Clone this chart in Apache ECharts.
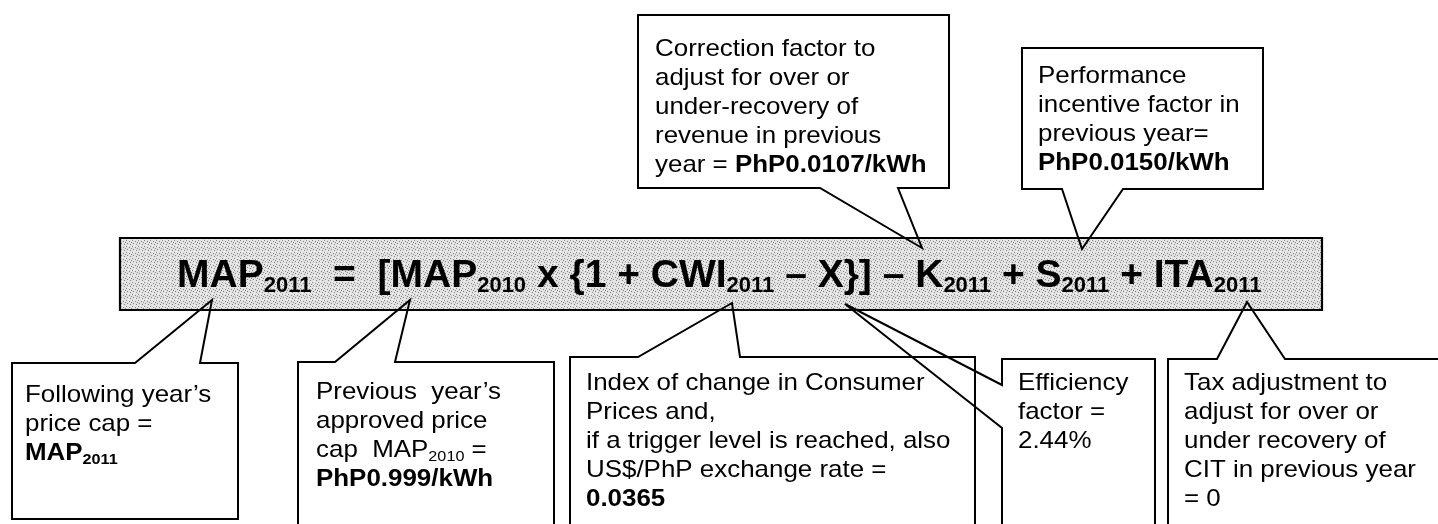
<!DOCTYPE html>
<html>
<head>
<meta charset="utf-8">
<script src="https://cdn.jsdelivr.net/npm/echarts@6/dist/echarts.min.js"></script>
<style>
html,body{margin:0;padding:0;background:#ffffff;}
#main{width:1438px;height:524px;}
</style>
</head>
<body>
<div id="main"></div>
<script>
// ---------- content (texts) ----------
const formulaText = 'MAP{s|2011}  =  [MAP{s|2010} x {1 + CWI{s|2011} \u2013 X}] \u2013 K{s|2011} + S{s|2011} + ITA{s|2011}';
const textCorrection = ['Correction factor to', 'adjust for over or', 'under-recovery of', 'revenue in previous', 'year = {b|PhP0.0107/kWh}'];
const textPerformance = ['Performance', 'incentive factor in', 'previous year=', '{b|PhP0.0150/kWh}'];
const textFollowing = ['Following year\u2019s', 'price cap =', '{b|MAP}{bs|2011}'];
const textPrevious = ['Previous  year\u2019s', 'approved price', 'cap  MAP{ns|2010} =', '{b|PhP0.999/kWh}'];
const textIndex = ['Index of change in Consumer', 'Prices and,', 'if a trigger level is reached, also', 'US$/PhP exchange rate =', '{b|0.0365}'];
const textEfficiency = ['Efficiency', 'factor =', '2.44%'];
const textTax = ['Tax adjustment to', 'adjust for over or', 'under recovery of', 'CIT in previous year', '= 0'];

// ---------- layout (positions / sizes) ----------
const bar = { x1: 120, y1: 238, x2: 1322, y2: 310, textX: 177, textY: 276 };
const callouts = [
  { lines: textCorrection, tx: 655, ty: 49, pts: [[638,15],[949,15],[949,188],[898,188],[922,248],[820,188],[638,188]] },
  { lines: textPerformance, tx: 1038, ty: 76, pts: [[1022,48],[1263,48],[1263,189],[1123,189],[1082,249],[1062,189],[1022,189]] },
  { lines: textFollowing, tx: 25, ty: 395, pts: [[12,363],[135,363],[212,300],[200,363],[238,363],[238,519],[12,519]] },
  { lines: textPrevious, tx: 316, ty: 392, pts: [[298,362],[335,362],[410,300],[395,362],[554,362],[554,540],[298,540]] },
  { lines: textIndex, tx: 586, ty: 383, pts: [[570,357],[638,357],[732,303],[740,357],[975,357],[975,540],[570,540]] },
  { lines: textEfficiency, tx: 1018, ty: 383, pts: [[1002,359],[1155,359],[1155,540],[1002,540],[1002,428],[845,304],[1002,385]] },
  { lines: textTax, tx: 1184, ty: 383, pts: [[1168,359],[1217,359],[1247,302],[1285,359],[1450,359],[1450,540],[1168,540]] }
];

// ---------- styles ----------
const FONT = '"Liberation Sans", Arial, Helvetica, sans-serif';
const BODY_SIZE = 24, BODY_LH = 29, BODY_SCALE_X = 1.08;
const F_SIZE = 39, F_SUB = 22, F_LH = 42;

function stipple() {
  const c = document.createElement('canvas');
  c.width = 6; c.height = 6;
  const g = c.getContext('2d');
  g.fillStyle = '#e2e2e2'; g.fillRect(0, 0, 6, 6);
  g.fillStyle = '#858585';
  [[0,0],[3,1],[1,3],[4,4],[5,2]].forEach(p => g.fillRect(p[0], p[1], 1, 1));
  g.fillStyle = '#f4f4f4';
  [[2,5],[5,0]].forEach(p => g.fillRect(p[0], p[1], 1, 1));
  return c;
}

const graphics = [];
graphics.push({
  type: 'rect', z: 1,
  shape: { x: bar.x1, y: bar.y1, width: bar.x2 - bar.x1, height: bar.y2 - bar.y1 },
  style: { fill: { image: stipple(), repeat: 'repeat' }, stroke: '#000', lineWidth: 2.2 }
});
graphics.push({
  type: 'text', z: 3, x: bar.textX, y: bar.textY,
  style: {
    text: formulaText, fill: '#000',
    fontSize: F_SIZE, fontWeight: 'bold', fontFamily: FONT, lineHeight: F_LH,
    verticalAlign: 'middle', align: 'left',
    rich: { s: { fontSize: F_SUB, fontWeight: 'bold', fontFamily: FONT, verticalAlign: 'bottom', lineHeight: F_SUB } }
  }
});
callouts.forEach(c => {
  graphics.push({
    type: 'polygon', z: 4,
    shape: { points: c.pts },
    style: { fill: 'none', stroke: '#000', lineWidth: 2, lineJoin: 'miter' }
  });
  graphics.push({
    type: 'text', z: 5, x: c.tx, y: c.ty - BODY_LH / 2, scaleX: BODY_SCALE_X,
    style: {
      text: c.lines.join('\n'), fill: '#000',
      fontSize: BODY_SIZE, fontFamily: FONT, lineHeight: BODY_LH,
      verticalAlign: 'top', align: 'left',
      rich: {
        b: { fontSize: BODY_SIZE, fontWeight: 'bold', fontFamily: FONT, lineHeight: BODY_LH },
        bs: { fontSize: 15, fontWeight: 'bold', fontFamily: FONT, lineHeight: 15, verticalAlign: 'bottom' },
        ns: { fontSize: 15, fontFamily: FONT, lineHeight: 15, verticalAlign: 'bottom' }
      }
    }
  });
});

const chart = echarts.init(document.getElementById('main'), null, { renderer: 'canvas' });
chart.setOption({
  backgroundColor: '#ffffff',
  animation: false,
  graphic: { elements: graphics }
});
</script>
</body>
</html>
